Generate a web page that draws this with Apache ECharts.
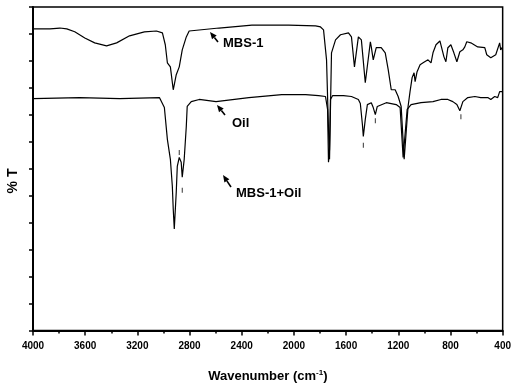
<!DOCTYPE html>
<html>
<head>
<meta charset="utf-8">
<script src="https://cdn.jsdelivr.net/npm/echarts@6/dist/echarts.min.js"></script>
<style>
    html, body { margin: 0; padding: 0; background: #fff; }
    #chart { width: 514px; height: 388px; }
</style>
</head>
<body>
<div id="chart"></div>
<script>
    // 波数刻度
    var xTicks = [4000, 3600, 3200, 2800, 2400, 2000, 1600, 1200, 800, 400];

    // MBS-1 谱线 [wavenumber, %T]
    var mbs1 = [
        [4000, 111.9], [3870, 111.9], [3794, 112.2], [3741, 111.9], [3680, 110.8],
        [3603, 108.5], [3527, 106.7], [3436, 105.6], [3359, 106.7], [3260, 109.3],
        [3146, 110.8], [3054, 111.1], [3008, 110.4], [2986, 106.0], [2970, 99.3],
        [2947, 97.8], [2925, 89.3], [2902, 94.9], [2879, 97.8], [2856, 104.1],
        [2825, 108.9], [2803, 111.1], [2574, 112.2], [2322, 113.3], [2040, 113.3],
        [1834, 113.0], [1796, 112.6], [1773, 111.5], [1750, 100.4], [1735, 74.6],
        [1727, 63.5], [1720, 82.0], [1712, 103.0], [1681, 107.8], [1643, 109.7],
        [1582, 110.4], [1559, 108.9], [1536, 97.8], [1506, 108.9], [1483, 107.8],
        [1453, 91.9], [1414, 107.1], [1407, 105.2], [1392, 100.4], [1369, 104.9],
        [1331, 104.9], [1300, 103.0], [1277, 96.7], [1254, 89.3], [1224, 89.3],
        [1201, 86.8], [1178, 83.1], [1155, 63.5], [1125, 83.1], [1110, 88.6],
        [1094, 93.8], [1079, 95.6], [1071, 92.3], [1056, 96.0], [1033, 98.6],
        [1010, 99.3], [995, 99.3], [972, 100.4], [949, 99.3], [934, 103.0],
        [911, 106.0], [881, 107.4], [873, 106.7], [850, 101.5], [835, 99.7],
        [820, 104.9], [797, 106.0], [774, 103.0], [751, 99.7], [728, 103.4],
        [705, 104.1], [690, 105.2], [675, 107.1], [644, 106.7], [591, 105.2],
        [537, 104.9], [522, 102.3], [491, 101.2], [453, 102.3], [423, 106.7],
        [415, 104.1], [400, 105.2]
    ];

    // Oil 谱线
    var oil = [
        [4000, 86.0], [3642, 86.4], [3336, 86.0], [3031, 86.4], [3016, 85.7],
        [2993, 82.7], [2970, 70.9], [2947, 63.5], [2932, 53.5], [2925, 45.0],
        [2917, 37.7], [2902, 51.3], [2894, 60.9], [2879, 64.2], [2864, 62.4],
        [2856, 56.9], [2841, 63.5], [2825, 75.7], [2818, 83.1], [2787, 84.9],
        [2726, 85.7], [2597, 84.9], [2345, 86.4], [2093, 87.5], [1910, 87.5],
        [1811, 87.1], [1758, 86.8], [1742, 82.0], [1735, 62.4], [1727, 67.2],
        [1720, 85.7], [1704, 87.1], [1620, 87.1], [1559, 86.8], [1506, 85.7],
        [1491, 84.2], [1475, 76.4], [1468, 72.0], [1453, 78.3], [1437, 83.8],
        [1407, 84.5], [1392, 82.7], [1376, 80.1], [1361, 83.1], [1353, 83.8],
        [1292, 84.5], [1216, 83.8], [1186, 82.7], [1163, 64.2], [1132, 82.0],
        [1102, 83.8], [1026, 84.5], [934, 84.9], [873, 85.7], [820, 85.7],
        [782, 84.9], [751, 83.8], [728, 81.5], [705, 84.9], [667, 86.4],
        [613, 86.8], [568, 86.4], [514, 86.4], [491, 85.7], [461, 86.8],
        [438, 86.4], [423, 88.6], [415, 89.3], [400, 88.6]
    ];

    // 峰位小标记
    var oilMarks = [[2879, 66.0], [2856, 52.0], [1468, 68.7], [1376, 77.8], [720, 79.3]];

    var fontFamily = '"Liberation Sans", Arial, sans-serif';

    // 箭头 (tip, tail 为像素位置)
    function arrow(tip, tail) {
        var dx = tip[0] - tail[0], dy = tip[1] - tail[1];
        var len = Math.sqrt(dx * dx + dy * dy);
        var ux = dx / len, uy = dy / len;
        var hl = 7, hw = 3;
        var bx = tip[0] - ux * hl, by = tip[1] - uy * hl;
        return [
            {
                type: 'line',
                shape: { x1: tail[0], y1: tail[1], x2: bx, y2: by },
                style: { stroke: '#000', lineWidth: 1.6 }
            },
            {
                type: 'polygon',
                shape: { points: [tip, [bx - uy * hw, by + ux * hw], [bx + uy * hw, by - ux * hw]] },
                style: { fill: '#000' }
            }
        ];
    }

    function label(text, x, y) {
        return {
            type: 'text',
            x: x, y: y,
            style: {
                text: text, fill: '#000', font: 'bold 13px ' + fontFamily,
                textAlign: 'left', textVerticalAlign: 'middle'
            }
        };
    }

    var graphics = [].concat(
        arrow([210, 32], [218, 42]), [label('MBS-1', 223, 43)],
        arrow([217, 105], [225, 115]), [label('Oil', 232, 123)],
        arrow([223, 175], [231, 187]), [label('MBS-1+Oil', 236, 193)],
        [{
            type: 'text',
            x: 13, y: 181,
            rotation: Math.PI / 2,
            style: {
                text: '% T', fill: '#000', font: 'bold 14px ' + fontFamily,
                textAlign: 'center', textVerticalAlign: 'middle'
            }
        }]
    );

    var chart = echarts.init(document.getElementById('chart'));

    chart.setOption({
        animation: false,
        grid: {
            left: 33, right: 9, top: 7, bottom: 56,
            show: true, borderColor: '#000', borderWidth: 1.5
        },
        xAxis: {
            type: 'value',
            inverse: true,
            min: 400, max: 4000, interval: 400,
            name: 'Wavenumber (cm{sup|-1})',
            nameLocation: 'middle',
            nameGap: 38,
            nameTextStyle: {
                color: '#000', fontFamily: fontFamily, fontWeight: 'bold', fontSize: 13,
                rich: { sup: { fontSize: 8, fontWeight: 'bold', fontFamily: fontFamily, verticalAlign: 'top', padding: [0, 0, 8, 0] } }
            },
            axisLine: { onZero: false, lineStyle: { color: '#000', width: 2 } },
            axisTick: { length: 5, lineStyle: { color: '#000', width: 1.5 } },
            minorTick: { show: true, splitNumber: 2, length: 3, lineStyle: { color: '#000', width: 1.5 } },
            splitLine: { show: false },
            axisLabel: {
                color: '#000', fontFamily: fontFamily, fontWeight: 'bold', fontSize: 10, margin: 11,
                showMinLabel: true, showMaxLabel: true,
                formatter: function (v) { return xTicks.indexOf(v) >= 0 ? String(v) : ''; }
            }
        },
        yAxis: {
            type: 'value',
            min: 0, max: 120, interval: 10,
            axisLine: { onZero: false, lineStyle: { color: '#000', width: 2 } },
            axisTick: { length: 4, lineStyle: { color: '#000', width: 1.5 } },
            axisLabel: { show: false },
            splitLine: { show: false }
        },
        series: [
            {
                name: 'MBS-1', type: 'line', data: mbs1, showSymbol: false,
                lineStyle: { color: '#000', width: 1.2 }, z: 3
            },
            {
                name: 'Oil', type: 'line', data: oil, showSymbol: false,
                lineStyle: { color: '#000', width: 1.2 }, z: 3
            },
            {
                name: 'marks', type: 'scatter', data: oilMarks,
                symbol: 'rect', symbolSize: [1, 5],
                itemStyle: { color: '#000' }, silent: true
            }
        ],
        graphic: graphics
    });
</script>
</body>
</html>
